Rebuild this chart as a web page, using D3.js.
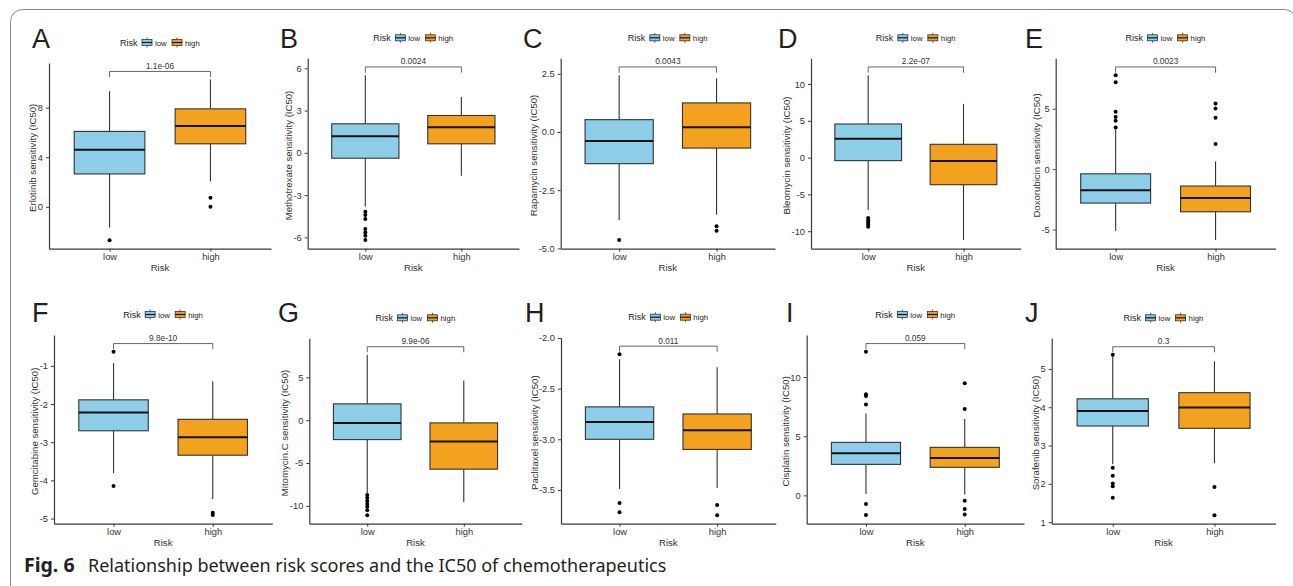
<!DOCTYPE html>
<html>
<head>
<meta charset="utf-8">
<script src="https://cdn.jsdelivr.net/npm/d3@7"></script>
<style>
  body { margin: 0; background: #fff; }
  svg { display: block; }
</style>
</head>
<body>
<div id="chart"></div>
<script>
var width = 1293, height = 586;

var panels = ["A", "B", "C", "D", "E", "F", "G", "H", "I", "J"];
var drugs = ["Erlotinib", "Methotrexate", "Rapamycin", "Bleomycin", "Doxorubicin",
             "Gemcitabine", "Mitomycin.C", "Paclitaxel", "Cisplatin", "Sorafenib"];
var groups = ["low", "high"];
var pValues = ["1.1e-06", "0.0024", "0.0043", "2.2e-07", "0.0023",
               "9.8e-10", "9.9e-06", "0.011", "0.059", "0.3"];

// [lower whisker, Q1, median, Q3, upper whisker]
var lowStats = [
  [-1.67, 2.65, 4.6, 6.08, 9.33],
  [-3.83, -0.38, 1.18, 2.06, 5.51],
  [-3.78, -1.36, -0.39, 0.53, 2.44],
  [-7.13, -0.41, 2.58, 4.57, 11.2],
  [-5.12, -2.81, -1.76, -0.39, 3.3],
  [-3.81, -2.70, -2.22, -1.89, -0.93],
  [-8.53, -2.27, -0.32, 1.9, 7.63],
  [-3.49, -3.0, -2.83, -2.68, -2.21],
  [0.11, 2.62, 3.55, 4.48, 6.93],
  [2.51, 3.51, 3.9, 4.22, 5.33]
];
var highStats = [
  [2.06, 5.08, 6.52, 7.9, 10.27],
  [-1.63, 0.64, 1.82, 2.65, 3.97],
  [-3.55, -0.69, 0.2, 1.25, 2.3],
  [-11.2, -3.68, -0.46, 1.81, 7.3],
  [-5.87, -3.53, -2.4, -1.4, 0.63],
  [-4.49, -3.34, -2.87, -2.40, -1.40],
  [-9.58, -5.72, -2.5, -0.32, 4.63],
  [-3.48, -3.10, -2.91, -2.75, -2.29],
  [0.08, 2.37, 3.15, 4.06, 6.45],
  [2.54, 3.45, 3.99, 4.38, 5.2]
];
var lowOutliers = [
  [-2.7],
  [-4.18, -4.42, -4.7, -5.41, -5.65, -5.88, -6.19],
  [-4.64],
  [-8.2, -8.5, -8.8, -9.1, -9.4],
  [3.45, 4.0, 4.32, 4.74, 7.19, 7.77],
  [-0.63, -4.15],
  [-8.73, -9.08, -9.43, -9.78, -10.1, -10.5, -11.1],
  [-2.16, -3.63, -3.72],
  [7.69, 8.39, 8.54, 12.14, -0.74, -1.67],
  [5.37, 2.42, 2.21, 2.01, 1.94, 1.64]
];
var highOutliers = [
  [0.73, 0.0],
  [],
  [-4.05, -4.24],
  [],
  [2.07, 4.24, 5.01, 5.43],
  [-4.85, -4.91],
  [],
  [-3.65, -3.75],
  [7.3, 9.47, -0.45, -1.16, -1.61],
  [1.92, 1.18]
];
var yTickLabels = [
  ["0", "4", "8"],
  ["-6", "-3", "0", "3", "6"],
  ["-5.0", "-2.5", "0.0", "2.5"],
  ["-10", "-5", "0", "5", "10"],
  ["-5", "0", "5"],
  ["-5", "-4", "-3", "-2", "-1"],
  ["-10", "-5", "0", "5"],
  ["-3.5", "-3.0", "-2.5", "-2.0"],
  ["0", "5", "10"],
  ["1", "2", "3", "4", "5"]
];

// plot rectangles and panel letter positions
var frames = [
  {x0: 49, x1: 271, top: 63, bottom: 248.7, lx: 32, ly: 48},
  {x0: 307.7, x1: 519, top: 58.3, bottom: 248.7, lx: 280, ly: 48},
  {x0: 560.7, x1: 775, top: 58.3, bottom: 248.7, lx: 523, ly: 48},
  {x0: 811, x1: 1020.7, top: 58.3, bottom: 248.7, lx: 778, ly: 48},
  {x0: 1055.7, x1: 1275.5, top: 58.3, bottom: 248.7, lx: 1025, ly: 48},
  {x0: 54, x1: 272.3, top: 335, bottom: 523.7, lx: 32, ly: 322},
  {x0: 309.3, x1: 521.7, top: 338.3, bottom: 523.7, lx: 278, ly: 322},
  {x0: 561, x1: 775.7, top: 337.7, bottom: 523.7, lx: 525, ly: 322},
  {x0: 806.7, x1: 1024, top: 335, bottom: 523.7, lx: 786, ly: 322},
  {x0: 1051.7, x1: 1275.5, top: 338.3, bottom: 523.7, lx: 1025, ly: 322}
];

var fill = {low: "#8ecde8", high: "#f3a21f"};
var font = "'Liberation Sans', Arial, sans-serif";

var svg = d3.select("#chart")
  .append("svg")
    .attr("width", width)
    .attr("height", height)
    .style("font-family", font);

// outer frame
svg.append("rect")
  .attr("x", 10.5).attr("y", 9.5)
  .attr("width", 1286).attr("height", 600)
  .attr("rx", 12)
  .attr("fill", "none")
  .attr("stroke", "#8a8a8a")
  .attr("stroke-width", 1);

panels.forEach(function(letter, i) {
  var f = frames[i];
  var g = svg.append("g");

  var all = lowStats[i].concat(highStats[i], lowOutliers[i], highOutliers[i]);
  var lo = d3.min(all), hi = d3.max(all);
  var bracketY = hi + 0.05 * (hi - lo);
  var pad = 0.05 * (bracketY - lo);

  var y = d3.scaleLinear()
    .domain([lo - pad, bracketY + pad])
    .range([f.bottom, f.top]);
  var x = d3.scalePoint()
    .domain(groups)
    .range([f.x0, f.x1])
    .padding(0.6);
  var bw = x.step() * 0.7;

  // panel letter
  g.append("text")
    .attr("x", f.lx).attr("y", f.ly)
    .style("font-size", "27px")
    .style("fill", "#231f20")
    .text(letter);

  // legend
  var cx = (f.x0 + f.x1) / 2, ly = f.top - 20.5;
  var leg = g.append("g").attr("transform", "translate(" + (cx - 40) + "," + ly + ")");
  leg.append("text").attr("x", 0).attr("y", 3.2).style("font-size", "9px").style("fill", "#222").text("Risk");
  groups.forEach(function(grp, k) {
    var kx = 22 + k * 30;
    var key = leg.append("g").attr("transform", "translate(" + kx + ",0)");
    key.append("line").attr("x1", 5).attr("x2", 5).attr("y1", -5).attr("y2", 5)
      .attr("stroke", "#333").attr("stroke-width", 0.8);
    key.append("rect").attr("x", 0).attr("y", -3).attr("width", 10).attr("height", 6)
      .attr("fill", fill[grp]).attr("stroke", "#333").attr("stroke-width", 0.8);
    key.append("line").attr("x1", 0).attr("x2", 10).attr("y1", 0).attr("y2", 0)
      .attr("stroke", "#111").attr("stroke-width", 1.2);
    leg.append("text").attr("x", kx + 13).attr("y", 3)
      .style("font-size", "7.8px").style("fill", "#222").text(grp);
  });

  // axes
  var tickVals = yTickLabels[i].map(Number);
  var yAxis = g.append("g")
    .attr("transform", "translate(" + f.x0 + ",0)")
    .call(d3.axisLeft(y)
      .tickValues(tickVals)
      .tickFormat(function(d, j) { return yTickLabels[i][j]; })
      .tickSize(3).tickSizeOuter(0).tickPadding(3));
  var xAxis = g.append("g")
    .attr("transform", "translate(0," + f.bottom + ")")
    .call(d3.axisBottom(x).tickSize(3).tickSizeOuter(0).tickPadding(2));

  [yAxis, xAxis].forEach(function(ax) {
    ax.select(".domain").attr("stroke", "#3a3a3a").attr("stroke-width", 1.2);
    ax.selectAll(".tick line").attr("stroke", "#3a3a3a").attr("stroke-width", 1);
    ax.selectAll(".tick text")
      .style("font-size", "9.3px")
      .style("font-family", font)
      .attr("fill", "#333");
  });

  var maxW = 0;
  yAxis.selectAll(".tick text").each(function() {
    maxW = Math.max(maxW, this.getComputedTextLength());
  });

  // axis titles
  g.append("text")
    .attr("transform", "translate(" + (f.x0 - maxW - 10.8) + "," + ((f.top + f.bottom) / 2 + 2) + ") rotate(-90)")
    .attr("text-anchor", "middle")
    .attr("dy", "0.35em")
    .style("font-size", "9.6px")
    .style("fill", "#333")
    .text(drugs[i] + " sensitivity (IC50)");
  g.append("text")
    .attr("x", (f.x0 + f.x1) / 2)
    .attr("y", f.bottom + 22.5)
    .attr("text-anchor", "middle")
    .style("font-size", "9.6px")
    .style("fill", "#333")
    .text("Risk");

  // boxes
  var stats = {low: lowStats[i], high: highStats[i]};
  var outs = {low: lowOutliers[i], high: highOutliers[i]};
  groups.forEach(function(grp) {
    var s = stats[grp], cxg = x(grp);
    var bg = g.append("g");
    bg.append("line")
      .attr("x1", cxg).attr("x2", cxg)
      .attr("y1", y(s[0])).attr("y2", y(s[1]))
      .attr("stroke", "#333").attr("stroke-width", 1.1);
    bg.append("line")
      .attr("x1", cxg).attr("x2", cxg)
      .attr("y1", y(s[3])).attr("y2", y(s[4]))
      .attr("stroke", "#333").attr("stroke-width", 1.1);
    bg.append("rect")
      .attr("x", cxg - bw / 2).attr("width", bw)
      .attr("y", y(s[3])).attr("height", y(s[1]) - y(s[3]))
      .attr("fill", fill[grp])
      .attr("stroke", "#333").attr("stroke-width", 1.1);
    bg.append("line")
      .attr("x1", cxg - bw / 2).attr("x2", cxg + bw / 2)
      .attr("y1", y(s[2])).attr("y2", y(s[2]))
      .attr("stroke", "#111").attr("stroke-width", 2);
    bg.selectAll("circle")
      .data(outs[grp])
      .enter()
      .append("circle")
        .attr("cx", cxg)
        .attr("cy", function(d) { return y(d); })
        .attr("r", 2)
        .attr("fill", "#000");
  });

  // comparison bracket
  var tip = 0.03 * (y.domain()[1] - y.domain()[0]);
  var by = y(bracketY), bt = y(bracketY - tip);
  g.append("path")
    .attr("d", "M" + x("low") + "," + bt + "V" + by + "H" + x("high") + "V" + bt)
    .attr("fill", "none")
    .attr("stroke", "#555")
    .attr("stroke-width", 0.9);
  g.append("text")
    .attr("x", (x("low") + x("high")) / 2)
    .attr("y", by - 2.5)
    .attr("text-anchor", "middle")
    .style("font-size", "8.3px")
    .style("fill", "#333")
    .text(pValues[i]);
});

// caption
var cap = svg.append("text")
  .attr("y", 572)
  .style("font-family", "'Noto Sans', 'Open Sans', sans-serif")
  .style("fill", "#231f20");
cap.append("tspan").attr("x", 24)
  .style("font-weight", "bold").style("font-size", "19.5px").text("Fig. 6");
cap.append("tspan").attr("x", 88)
  .style("font-size", "18px")
  .text("Relationship between risk scores and the IC50 of chemotherapeutics");
</script>
</body>
</html>
